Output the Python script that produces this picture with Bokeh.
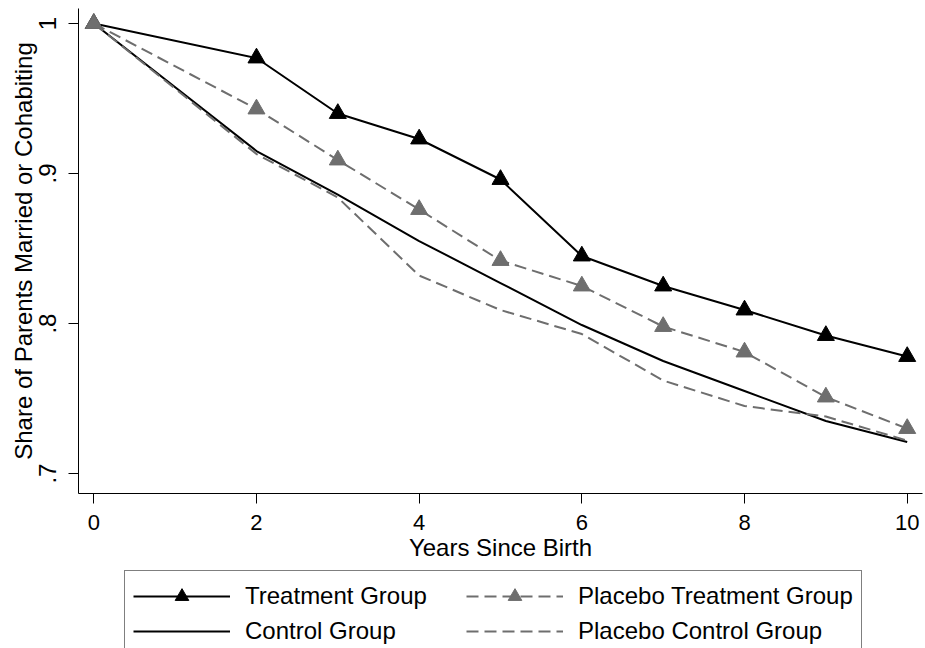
from bokeh.plotting import figure
from bokeh.layouts import column
from bokeh.models import (Range1d, FixedTicker, CustomJSTickFormatter, Legend,
                          LegendItem, ColumnDataSource)
from bokeh.embed import file_html
from bokeh.resources import INLINE

# ---- data ----
years = [0, 2, 3, 4, 5, 6, 7, 8, 9, 10]
treatment = [1.0, 0.977, 0.940, 0.923, 0.896, 0.845, 0.825, 0.809, 0.792, 0.778]
placebo_treatment = [1.0, 0.943, 0.909, 0.876, 0.842, 0.825, 0.798, 0.781, 0.751, 0.730]
control = [1.0, 0.915, 0.886, 0.855, 0.827, 0.799, 0.775, 0.755, 0.735, 0.721]
placebo_control = [1.0, 0.913, 0.884, 0.832, 0.809, 0.793, 0.762, 0.745, 0.738, 0.722]
x_ticks = [0, 2, 4, 6, 8, 10]
y_ticks = [0.7, 0.8, 0.9, 1.0]
series_labels = ["Treatment Group", "Placebo Treatment Group",
                 "Control Group", "Placebo Control Group"]
x_title = "Years Since Birth"
y_title = "Share of Parents Married or Cohabiting"

FONT = "Liberation Sans"
GRAY = "#6e6e6e"
DASH = "12 6"

src = ColumnDataSource(dict(x=years, t=treatment, pt=placebo_treatment,
                            c=control, pc=placebo_control))


def add_series(fig):
    r_c = fig.line("x", "c", source=src, line_color="black", line_width=2)
    r_pc = fig.line("x", "pc", source=src, line_color=GRAY, line_width=2, line_dash=DASH)
    r_t = fig.line("x", "t", source=src, line_color="black", line_width=2)
    r_tm = fig.scatter("x", "t", source=src, marker="triangle", size=17,
                       fill_color="black", line_color="black")
    r_pt = fig.line("x", "pt", source=src, line_color=GRAY, line_width=2, line_dash=DASH)
    r_ptm = fig.scatter("x", "pt", source=src, marker="triangle", size=17,
                        fill_color=GRAY, line_color=GRAY)
    return r_c, r_pc, r_t, r_tm, r_pt, r_ptm


# ---- main chart ----
p = figure(width=925, height=568, output_backend="svg", toolbar_location=None,
           x_range=Range1d(-0.188, 10.188), y_range=Range1d(0.6867, 1.01),
           min_border=0, min_border_left=78, min_border_right=3,
           min_border_top=8, min_border_bottom=75)
p.outline_line_color = None
p.xgrid.visible = False
p.ygrid.visible = False
p.background_fill_color = "white"
p.border_fill_color = "white"

add_series(p)

for ax in (p.xaxis[0], p.yaxis[0]):
    ax.axis_line_color = "black"
    ax.axis_line_width = 1
    ax.major_tick_line_color = "black"
    ax.major_tick_out = 10
    ax.major_tick_in = 0
    ax.minor_tick_line_color = None
    ax.major_label_text_font = FONT
    ax.major_label_text_color = "black"
    ax.axis_label_text_font = FONT
    ax.axis_label_text_font_size = "24px"
    ax.axis_label_text_font_style = "normal"
    ax.axis_label_text_color = "black"

p.xaxis.ticker = FixedTicker(ticks=x_ticks)
p.xaxis.axis_label = x_title
p.xaxis.major_label_text_font_size = "22px"
p.xaxis.major_label_standoff = 11
p.xaxis.axis_label_standoff = 1

p.yaxis.ticker = FixedTicker(ticks=y_ticks)
p.yaxis.formatter = CustomJSTickFormatter(
    code="return tick >= 0.999 ? '1' : tick.toFixed(1).replace(/^0/, '');")
p.yaxis.major_label_orientation = "vertical"
p.yaxis.major_label_text_font_size = "24px"
p.yaxis.major_label_standoff = 12
p.yaxis.axis_label = y_title
p.yaxis.axis_label_standoff = 0

# ---- legend strip below (same series, drawn outside its visible range) ----
q = figure(width=925, height=80, output_backend="svg", toolbar_location=None,
           x_range=Range1d(-100, -99), y_range=Range1d(-100, -99),
           x_axis_location=None, y_axis_location=None, min_border=0)
q.outline_line_color = None
q.xgrid.visible = False
q.ygrid.visible = False
q.background_fill_color = "white"
q.border_fill_color = "white"
q_c, q_pc, q_t, q_tm, q_pt, q_ptm = add_series(q)

legend = Legend(items=[
    LegendItem(label=series_labels[0], renderers=[q_t, q_tm]),
    LegendItem(label=series_labels[1], renderers=[q_pt, q_ptm]),
    LegendItem(label=series_labels[2], renderers=[q_c]),
    LegendItem(label=series_labels[3], renderers=[q_pc]),
], location=(46, -9), orientation="horizontal", ncols=2,
    glyph_width=97, glyph_height=34, label_standoff=15, label_width=220,
    padding=8, spacing=1, margin=0,
    label_text_font=FONT, label_text_font_size="24px", label_text_color="black",
    border_line_color="black", border_line_width=1,
    background_fill_color="white", background_fill_alpha=1.0)
q.add_layout(legend, "center")

layout = column(p, q, spacing=0)
open("out.html", "w").write(file_html(layout, INLINE))
